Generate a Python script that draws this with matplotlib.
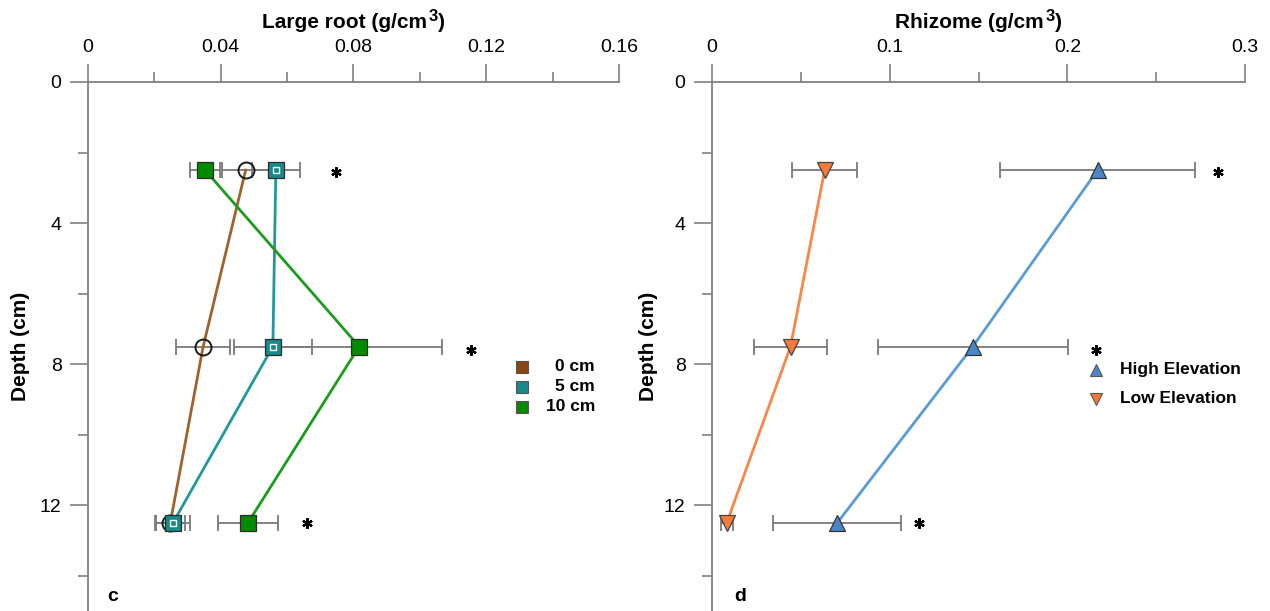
import matplotlib
matplotlib.use("Agg")
import matplotlib.pyplot as plt
from matplotlib.ticker import MultipleLocator

plt.rcParams["font.family"] = ["Liberation Sans", "DejaVu Sans"]

# ── Data ─────────────────────────────────────────────────────────────
depth = [2.5, 7.5, 12.5]

root_0cm = [0.0475, 0.0347, 0.0248]
root_0cm_err = [0.0072, 0.0081, 0.0045]
root_5cm = [0.0566, 0.0557, 0.0256]
root_5cm_err = [0.0072, 0.0117, 0.0050]
root_10cm = [0.0353, 0.0817, 0.0482]
root_10cm_err = [0.0045, 0.0250, 0.0090]
root_sig_x = [0.0747, 0.1154, 0.0660]
root_sig_depth = [2.55, 7.6, 12.5]

rhizome_high = [0.217, 0.1468, 0.0705]
rhizome_high_err = [0.055, 0.0535, 0.036]
rhizome_low = [0.0634, 0.0442, 0.0083]
rhizome_low_err = [0.0183, 0.0208, 0.0035]
rhizome_sig_x = [0.2848, 0.216, 0.1165]
rhizome_sig_depth = [2.55, 7.6, 12.5]

# ── Palette ──────────────────────────────────────────────────────────
C = {
    "brown": "#8B4513",
    "brown_line": "#A0622D",
    "teal": "#178A8A",
    "teal_line": "#22989A",
    "green": "#008A00",
    "green_line": "#1E9A1E",
    "blue": "#4A86C8",
    "blue_line": "#5A9BD5",
    "orange": "#F47B3A",
    "orange_line": "#F4874B",
    "err": "#7a7a7a",
    "axis": "#808080",
}

W, H = 1270, 611
fig = plt.figure(figsize=(W / 100, H / 100), dpi=100)
fig.patch.set_facecolor("white")

ax_h = (H - 82) / H
ax1 = fig.add_axes([88 / W, 0, 531 / W, ax_h])
ax2 = fig.add_axes([712 / W, 0, 533 / W, ax_h])


def style_axis(ax, xmax, xmajor, xminor, xfmt):
    ax.set_xlim(0, xmax)
    ax.set_ylim(15, 0)
    for side in ("right", "bottom"):
        ax.spines[side].set_visible(False)
    for side in ("top", "left"):
        ax.spines[side].set_color(C["axis"])
        ax.spines[side].set_linewidth(1.3)
    ax.xaxis.tick_top()
    ax.xaxis.set_major_locator(MultipleLocator(xmajor))
    ax.xaxis.set_minor_locator(MultipleLocator(xminor))
    ax.yaxis.set_major_locator(MultipleLocator(4))
    ax.yaxis.set_minor_locator(MultipleLocator(2))
    ax.xaxis.set_major_formatter(xfmt)
    ax.yaxis.set_major_formatter(lambda v, p: f"{v:g}")
    ax.tick_params(which="major", length=13, width=1.2, color=C["axis"],
                   labelsize=14, direction="out")
    ax.tick_params(axis="x", which="major", pad=6)
    ax.tick_params(axis="y", which="major", pad=6)
    ax.tick_params(which="minor", length=7, width=1.2, color=C["axis"],
                   direction="out")
    ax.set_ylabel("Depth (cm)", fontsize=15, fontweight="bold")


def top_title(ax, base, sup, tail, fs=15, baseline_px=28):
    # bold title with a large raised superscript, centred over the axes
    renderer = fig.canvas.get_renderer()
    kw = dict(transform=None, fontweight="bold", va="baseline", ha="left")
    t1 = fig.text(0, 0, base, fontsize=fs, **kw)
    t2 = fig.text(0, 0, sup, fontsize=fs * 0.8, **kw)
    t3 = fig.text(0, 0, tail, fontsize=fs, **kw)
    w1 = t1.get_window_extent(renderer).width
    w2 = t2.get_window_extent(renderer).width
    w3 = t3.get_window_extent(renderer).width
    gap = 2
    total = w1 + gap + w2 + w3
    bb = ax.get_window_extent(renderer)
    x0 = (bb.x0 + bb.x1) / 2 - total / 2
    y = H - baseline_px
    t1.set_position((x0, y))
    t2.set_position((x0 + w1 + gap, y + 7))
    t3.set_position((x0 + w1 + gap + w2, y))


style_axis(ax1, 0.16, 0.04, 0.02,
           lambda v, p: "0" if v == 0 else f"{v:.2f}")
style_axis(ax2, 0.3, 0.1, 0.05,
           lambda v, p: "0" if v == 0 else f"{v:.1f}")
ax1.yaxis.set_label_coords(-58 / 531, 0.5)
ax2.yaxis.set_label_coords(-54 / 533, 0.5)

ebar = dict(fmt="none", ecolor=C["err"], elinewidth=1.3, capsize=5.5,
            capthick=1.3, zorder=2)

# ── Large root panel ─────────────────────────────────────────────────
ax1.errorbar(root_0cm, depth, xerr=root_0cm_err, **ebar)
ax1.errorbar(root_5cm, depth, xerr=root_5cm_err, **ebar)
ax1.errorbar(root_10cm, depth, xerr=root_10cm_err, **ebar)

ax1.plot(root_0cm, depth, color=C["brown_line"], lw=2, zorder=3)
ax1.plot(root_5cm, depth, color=C["teal_line"], lw=2, zorder=3)
ax1.plot(root_10cm, depth, color=C["green_line"], lw=2, zorder=3)

ax1.plot(root_0cm, depth, ls="none", marker="o", ms=11.5, mfc="none",
         mec="#1a1a1a", mew=1.4, zorder=4)
ax1.plot(root_10cm, depth, ls="none", marker="s", ms=12, mfc=C["green"],
         mec="#2b2b2b", mew=0.9, zorder=4)
ax1.plot(root_5cm, depth, ls="none", marker="s", ms=12, mfc=C["teal"],
         mec="#2b2b2b", mew=0.9, zorder=5)
ax1.plot(root_5cm, depth, ls="none", marker="s", ms=4.5, mfc="none",
         mec="white", mew=1.0, zorder=6)

ax1.plot(root_sig_x, root_sig_depth, ls="none", marker=(6, 2, 0), ms=7.5,
         mew=1.6, color="black", zorder=5)

# legend, right-aligned labels
for yy, col, lbl in [(0.462, C["brown"], "0 cm"),
                     (0.424, C["teal"], "5 cm"),
                     (0.386, C["green"], "10 cm")]:
    ax1.plot([0.817], [yy], transform=ax1.transAxes, marker="s", ms=9,
             mfc=col, mec="#555555", mew=0.8, ls="none", clip_on=False)
    ax1.text(0.955, yy, lbl, transform=ax1.transAxes, ha="right",
             va="center", fontsize=12.5, fontweight="bold")

ax1.text(0.047, 0.027, "c", transform=ax1.transAxes, ha="center",
         va="center", fontsize=14, fontweight="bold")

# ── Rhizome panel ────────────────────────────────────────────────────
ax2.errorbar(rhizome_high, depth, xerr=rhizome_high_err, **ebar)
ax2.errorbar(rhizome_low, depth, xerr=rhizome_low_err, **ebar)

ax2.plot(rhizome_high, depth, color=C["blue_line"], lw=2, zorder=3)
ax2.plot(rhizome_low, depth, color=C["orange_line"], lw=2, zorder=3)

ax2.plot(rhizome_high, depth, ls="none", marker="^", ms=12,
         mfc=C["blue"], mec="#333333", mew=0.9, zorder=4)
ax2.plot(rhizome_low, depth, ls="none", marker="v", ms=12,
         mfc=C["orange"], mec="#444444", mew=0.9, zorder=4)

ax2.plot(rhizome_sig_x, rhizome_sig_depth, ls="none", marker=(6, 2, 0),
         ms=7.5, mew=1.6, color="black", zorder=5)

for yy, col, mk, lbl in [(0.4556, C["blue"], "^", "High Elevation"),
                         (0.4008, C["orange"], "v", "Low Elevation")]:
    ax2.plot([0.720], [yy], transform=ax2.transAxes, marker=mk, ms=9,
             mfc=col, mec="#555555", mew=0.8, ls="none", clip_on=False)
    ax2.text(0.765, yy, lbl, transform=ax2.transAxes, ha="left",
             va="center", fontsize=12.5, fontweight="bold")

ax2.text(0.0525, 0.027, "d", transform=ax2.transAxes, ha="center",
         va="center", fontsize=14, fontweight="bold")

top_title(ax1, "Large root (g/cm", "3", ")")
top_title(ax2, "Rhizome (g/cm", "3", ")")

fig.savefig("out.png", dpi=100, facecolor="white")
